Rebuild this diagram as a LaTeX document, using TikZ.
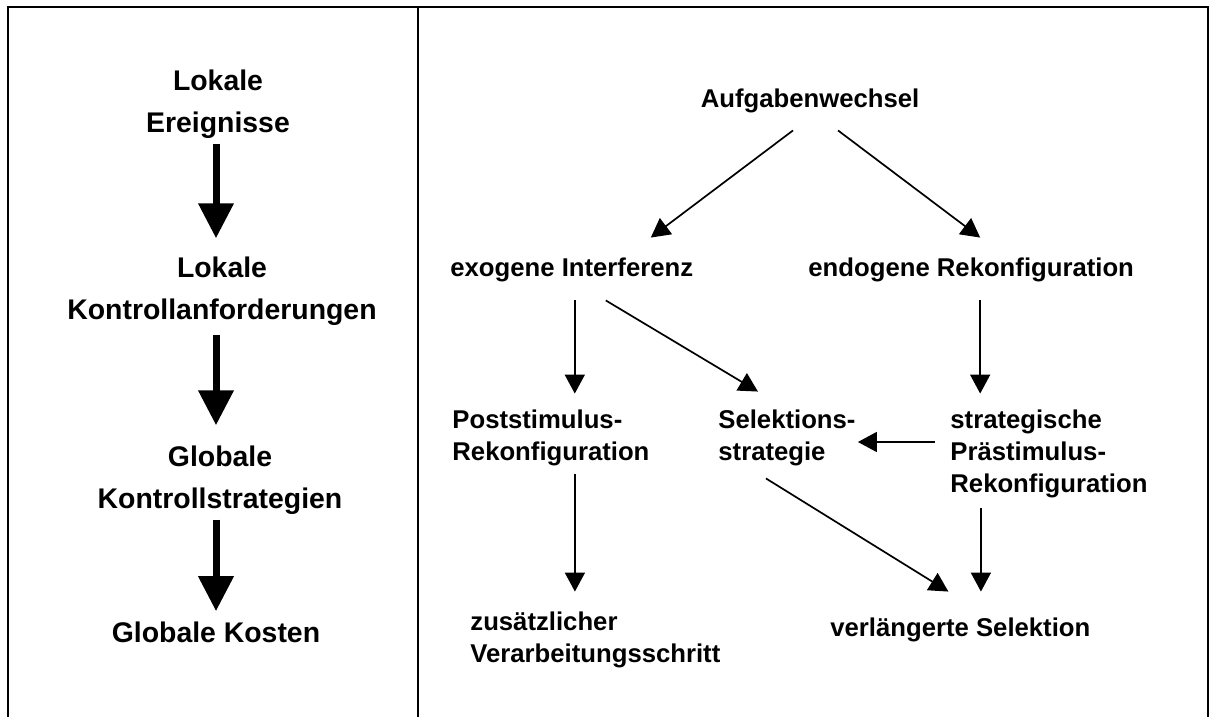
\documentclass[tikz,border=0pt]{standalone}
\usepackage{fontspec}
\setmainfont{Liberation Sans}
\usetikzlibrary{arrows.meta}
\tikzset{
  leftlabel/.style={font=\fontsize{14.2}{21}\selectfont\bfseries, align=center, inner sep=0pt},
  rightlabel/.style={font=\fontsize{12.85}{16}\selectfont\bfseries, align=left, inner sep=0pt},
  bigarrow/.style={-{Triangle[length=17.5pt,width=17pt]}, line width=3.5pt},
  arrow/.style={-{Triangle[length=9.5pt,width=10pt]}, line width=0.85pt},
  frame/.style={line width=1.1pt}
}

\begin{document}
\begin{tikzpicture}[x=0.5pt,y=-0.5pt]
  \useasboundingbox (0,0) rectangle (1210,717);
  \draw[frame] (8,717) -- (8,7) -- (1208,7) -- (1208,717);
  \draw[frame] (418,7) -- (418,717);
  % left column
  \node[leftlabel] (ereig) at (218,104) {Lokale\\Ereignisse};
  \node[leftlabel] (anford) at (222,291) {Lokale\\Kontrollanforderungen};
  \node[leftlabel] (kstrat) at (220,480) {Globale\\Kontrollstrategien};
  \node[leftlabel] (kosten) at (216,632) {Globale Kosten};
  \draw[bigarrow, shorten <=2.5pt, shorten >=9pt] (ereig.south -| 216,0) -- (anford.north -| 216,0);
  \draw[bigarrow, shorten <=4.5pt, shorten >=10pt] (anford.south -| 216,0) -- (kstrat.north -| 216,0);
  \draw[bigarrow, shorten <=2.5pt, shorten >=5pt] (kstrat.south -| 216,0) -- (kosten.north -| 216,0);
  % right part
  \node[rightlabel] (wechsel) at (810,101) {Aufgabenwechsel};
  \node[rightlabel, anchor=west] (exo) at (450,270) {exogene Interferenz};
  \node[rightlabel, anchor=west] (endo) at (808,270) {endogene Rekonfiguration};
  \node[rightlabel, anchor=west] (post) at (452,438) {Poststimulus-\\Rekonfiguration};
  \node[rightlabel, anchor=west] (selekt) at (718,438) {Selektions-\\strategie};
  \node[rightlabel, anchor=west] (praest) at (950,454) {strategische\\Prästimulus-\\Rekonfiguration};
  \node[rightlabel, anchor=west] (zusatz) at (470,640) {zusätzlicher\\Verarbeitungsschritt};
  \node[rightlabel, anchor=west] (verl) at (830,630) {verlängerte Selektion};
  \draw[arrow] ([xshift=-8.5pt,yshift=-8.5pt]wechsel.south) -- ([xshift=39.5pt,yshift=10pt]exo.north);
  \draw[arrow] ([xshift=14pt,yshift=-8.5pt]wechsel.south) -- ([xshift=4.5pt,yshift=10pt]endo.north);
  \draw[arrow] ([xshift=1.5pt,yshift=-9pt]exo.south) -- ([xshift=1.5pt,yshift=8pt]exo.south |- post.north);
  \draw[arrow] ([xshift=17pt,yshift=-9pt]exo.south) -- ([xshift=-14.5pt,yshift=9pt]selekt.north);
  \draw[arrow] ([xshift=4.5pt,yshift=-9pt]endo.south) -- ([xshift=4.5pt,yshift=8pt]endo.south |- praest.north);
  \draw[arrow] ([xshift=-7.5pt,yshift=6pt]praest.west) -- ([xshift=1pt,yshift=6pt]selekt.east |- praest.west);
  \draw[arrow] ([xshift=12pt,yshift=-4pt]post.south) -- ([xshift=12pt,yshift=10pt]post.south |- zusatz.north);
  \draw[arrow] ([xshift=-10.5pt,yshift=-6pt]selekt.south) -- ([xshift=-6pt,yshift=13pt]verl.north);
  \draw[arrow] ([xshift=-34pt,yshift=-5pt]praest.south) -- ([xshift=-34pt,yshift=13pt]praest.south |- verl.north);
\end{tikzpicture}
\end{document}
